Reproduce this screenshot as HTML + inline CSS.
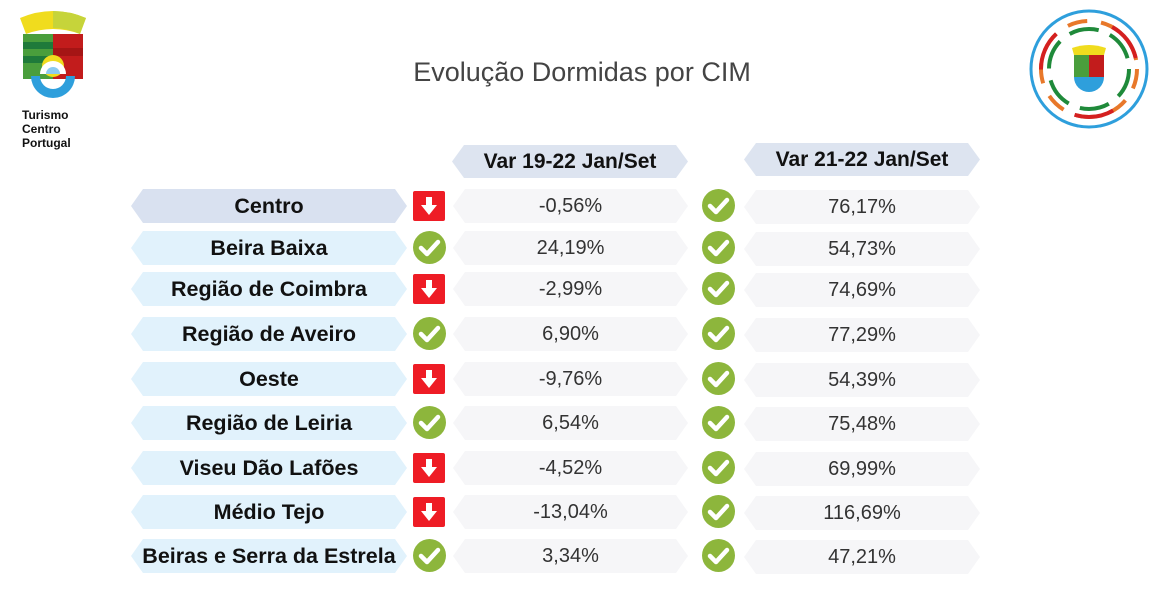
<!DOCTYPE html>
<html><head><meta charset="utf-8"><style>
body{margin:0;width:1164px;height:603px;background:#fff;position:relative;overflow:hidden;font-family:"Liberation Sans",sans-serif}
.a{position:absolute}
.hex{clip-path:polygon(12px 0,calc(100% - 12px) 0,100% 50%,calc(100% - 12px) 100%,12px 100%,0 50%);display:flex;align-items:center;justify-content:center}
.lab{left:131px;width:276px;height:34px;background:#e1f2fc;font-weight:bold;font-size:21.5px;color:#111}
.v1{left:453px;width:235px;height:34px;background:#f6f6f8;font-size:20px;color:#333}
.v2{left:744px;width:236px;height:34px;background:#f6f6f8;font-size:20px;color:#333}
.hd{height:33px;background:#dde4f0;font-weight:bold;font-size:21px;color:#111}
</style></head><body>
<svg class="a" style="left:18px;top:8px" width="70" height="95" viewBox="0 0 70 95">
<path d="M2 10 Q35 -4 68 10 L62 26 Q35 16 8 26Z" fill="#f0dc1e"/>
<path d="M35 3 Q52 3 68 10 L62 26 Q48 20 35 20Z" fill="#c6d43a"/>
<rect x="5" y="26" width="30" height="45" fill="#4a9e3c"/>
<rect x="5" y="34" width="30" height="7" fill="#1f7a3a"/>
<rect x="5" y="48" width="30" height="7" fill="#1f7a3a"/>
<rect x="35" y="26" width="30" height="45" fill="#c21c1c"/>
<rect x="35" y="40" width="30" height="8" fill="#a51515"/>
<circle cx="35" cy="58" r="11" fill="#f0dc1e"/>
<path d="M13 68 A22 22 0 0 0 57 68 L48 68 A13 13 0 0 1 22 68Z" fill="#2e9fdc"/>
<path d="M22 66 A13 13 0 0 1 48 66Z" fill="#fff"/>
<path d="M28 66 A7 7 0 0 1 42 66Z" fill="#8ccbf0"/>
</svg>
<div class="a" style="left:22px;top:108px;font-weight:bold;font-size:12px;line-height:14px;color:#111">Turismo<br>Centro<br>Portugal</div>
<svg class="a" style="left:1028px;top:8px" width="122" height="122" viewBox="0 0 122 122">
<circle cx="61" cy="61" r="58" fill="none" stroke="#2e9fdc" stroke-width="3"/>
<circle cx="61" cy="61" r="48" fill="none" stroke="#e8782a" stroke-width="4" stroke-dasharray="20 14"/>
<circle cx="61" cy="61" r="40" fill="none" stroke="#1f8a3a" stroke-width="4" stroke-dasharray="30 12"/>
<circle cx="61" cy="61" r="48" fill="none" stroke="#d42020" stroke-width="4" stroke-dasharray="40 60" stroke-dashoffset="-150"/>
<path d="M44 40 Q61 34 78 40 L76 47 L46 47Z" fill="#f0dc1e"/>
<rect x="46" y="47" width="15" height="22" fill="#4a9e3c"/><rect x="61" y="47" width="15" height="22" fill="#c21c1c"/>
<path d="M46 69 A15 15 0 0 0 76 69Z" fill="#2e9fdc"/>
</svg>
<div class="a" style="left:0;width:1164px;top:57px;text-align:center;font-size:27px;color:#444">Evolução Dormidas por CIM</div>
<div class="a hex hd" style="left:452px;top:145px;width:236px">Var 19-22 Jan/Set</div>
<div class="a hex hd" style="left:744px;top:143px;width:236px">Var 21-22 Jan/Set</div>
<div id="rows"></div>
<script>
var d=[["Centro","-0,56%","76,17%",0],["Beira Baixa","24,19%","54,73%",1],["Região de Coimbra","-2,99%","74,69%",0],["Região de Aveiro","6,90%","77,29%",1],["Oeste","-9,76%","54,39%",0],["Região de Leiria","6,54%","75,48%",1],["Viseu Dão Lafões","-4,52%","69,99%",0],["Médio Tejo","-13,04%","116,69%",0],["Beiras e Serra da Estrela","3,34%","47,21%",1]];
var ys=[206,248,289,334,379,423,468,512,556],h="";
var ck='<svg width="33" height="33" viewBox="0 0 33 33"><circle cx="16.5" cy="16.5" r="16.5" fill="#8db63c"/><path d="M8 17 L14 23 L25 11" fill="none" stroke="#fff" stroke-width="4.5" stroke-linecap="round" stroke-linejoin="round"/></svg>';
var dn='<svg width="32" height="30" viewBox="0 0 32 30"><rect width="32" height="30" rx="2" fill="#ee1c25"/><path d="M13 6 H19 V14 H24 L16 24 L8 14 H13Z" fill="#fff"/></svg>';
d.forEach(function(r,i){var t=ys[i]-17;
h+='<div class="a hex lab" style="top:'+t+'px;'+(i==0?'background:#d9e1f0':'')+'">'+r[0]+'</div>';
h+='<div class="a" style="left:413px;top:'+(r[3]?t:t+2)+'px">'+(r[3]?ck:dn)+'</div>';
h+='<div class="a hex v1" style="top:'+t+'px">'+r[1]+'</div>';
h+='<div class="a" style="left:702px;top:'+t+'px">'+ck+'</div>';
h+='<div class="a hex v2" style="top:'+(t+1)+'px">'+r[2]+'</div>';});
document.getElementById("rows").innerHTML=h;
</script>
</body></html>
